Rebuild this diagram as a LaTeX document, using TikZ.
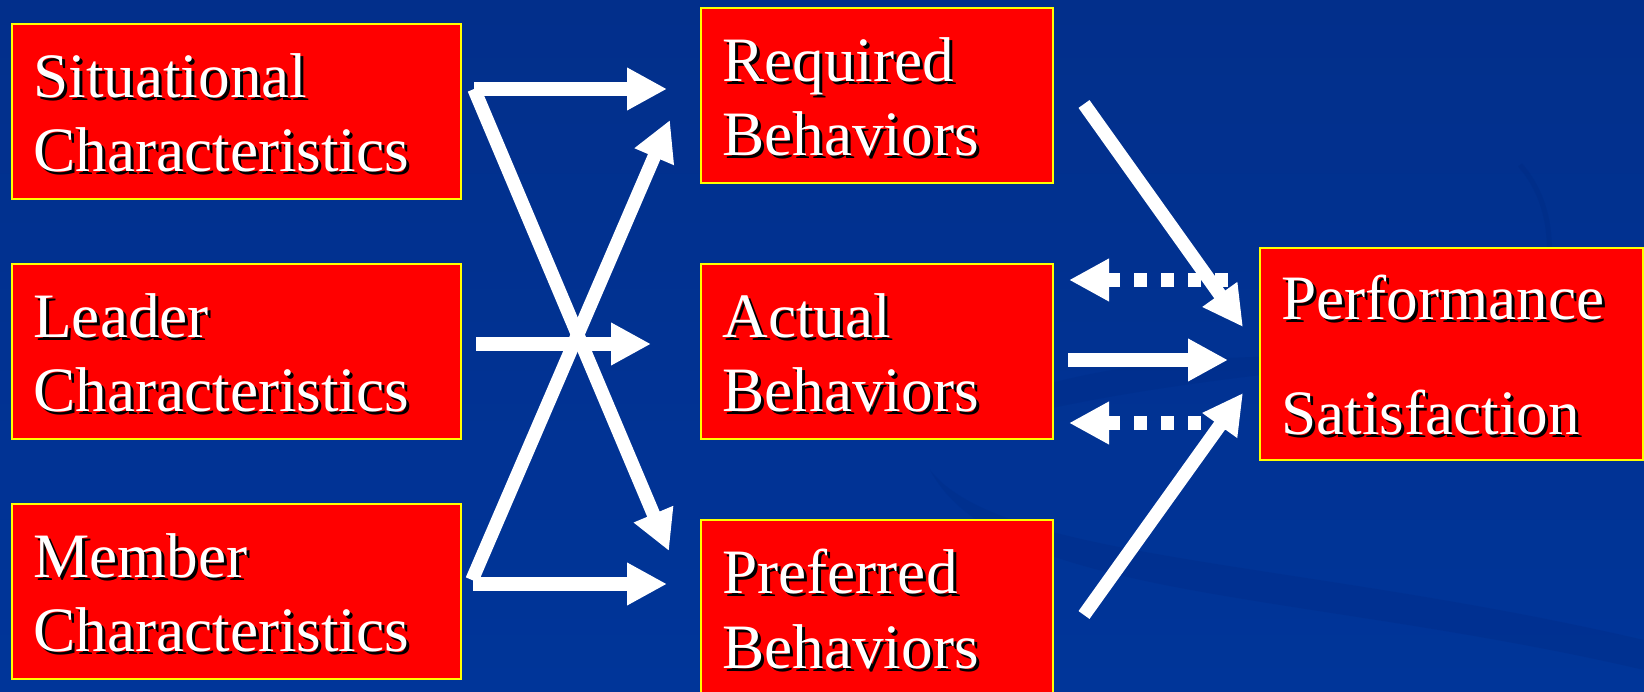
\documentclass[tikz,border=0pt]{standalone}
\usepackage{fontspec}
\setmainfont{Liberation Serif}
\usetikzlibrary{arrows.meta}

\definecolor{slideblue}{RGB}{0,53,153}
\definecolor{slidetop}{RGB}{2,47,139}
\definecolor{swirl}{RGB}{0,40,128}
\definecolor{boxred}{RGB}{255,0,0}
\definecolor{boxrim}{RGB}{255,255,0}

\begin{document}
\begin{tikzpicture}[x=0.02cm,y=-0.02cm]
\tikzstyle{box}=[draw=boxrim,fill=boxred,line width=0.04cm,anchor=north west,inner sep=0,outer sep=0,minimum height=3.5cm]
\tikzstyle{txt}=[anchor=west,align=left,inner sep=0,xshift=0.42cm,yshift=-0.03cm,font=\fontsize{36}{42.5}\selectfont]
\tikzstyle{arr}=[white,line width=0.27cm,-{Triangle[length=0.8cm,width=0.8cm]}]
\tikzstyle{dot}=[arr,dash pattern=on 0.27cm off 0.27cm]

% slide background
\useasboundingbox (0,0) rectangle (1644,692);
\clip (0,0) rectangle (1644,692);
\shade[top color=slidetop,bottom color=slideblue] (0,0) rectangle (1644,692);
\fill[swirl,opacity=0.25] (1000,400) .. controls (1100,360) and (1250,350) .. (1400,360)
  .. controls (1250,375) and (1120,390) .. (1000,420) -- cycle;
\fill[swirl,opacity=0.25] (930,470) .. controls (1000,560) and (1300,560) .. (1644,640)
  -- (1644,670) .. controls (1300,590) and (1000,600) .. (930,470);
\draw[swirl,opacity=0.3,line width=0.1cm] (1520,165) .. controls (1560,210) and (1555,280) .. (1530,330);

% the boxes
\node[box,minimum width=8.98cm] (sit) at (12,24) {};
\node[box,minimum width=8.98cm] (lead) at (12,264) {};
\node[box,minimum width=8.98cm] (memb) at (12,504) {};
\node[box,minimum width=7.04cm] (req) at (701,8) {};
\node[box,minimum width=7.04cm] (act) at (701,264) {};
\node[box,minimum width=7.04cm] (pref) at (701,520) {};
\node[box,minimum width=7.66cm,minimum height=4.24cm] (perf) at (1260,248) {};

% labels, black shadow first
\foreach \c/\s in {black/0.06cm,white/0cm} {
  \node[txt,text=\c,xshift=\s,yshift=-\s] (sit-\c) at (sit.west) {Situational\\Characteristics};
  \node[txt,text=\c,xshift=\s,yshift=-\s] (lead-\c) at (lead.west) {Leader\\Characteristics};
  \node[txt,text=\c,xshift=\s,yshift=-\s] (memb-\c) at (memb.west) {Member\\Characteristics};
  \node[txt,text=\c,xshift=\s,yshift=-\s] (req-\c) at (req.west) {Required\\Behaviors};
  \node[txt,text=\c,xshift=\s,yshift=-\s] (act-\c) at (act.west) {Actual\\Behaviors};
  \node[txt,text=\c,xshift=\s,yshift=-\s] (pref-\c) at (pref.west) {Preferred\\Behaviors};
  \node[txt,text=\c,xshift=\s,yshift=-\s] (perf-\c) at (perf.west) {Performance\\[23pt]Satisfaction};
}

% arrow ends
\coordinate (s1) at (474,89);
\coordinate (l1) at (476,344);
\coordinate (m1) at (473,584);
\coordinate (m2) at (472,580);
\coordinate (r1) at (667,89);
\coordinate (r2) at (670,120);
\coordinate (a1) at (651,344);
\coordinate (p1) at (669,551);
\coordinate (p2) at (667,584);
\coordinate (r3) at (1084,104);
\coordinate (a2) at (1068,360);
\coordinate (a3) at (1069,280);
\coordinate (a4) at (1069,423);
\coordinate (p3) at (1084,615);
\coordinate (q1) at (1243,327);
\coordinate (q2) at (1228,360);
\coordinate (q3) at (1243,393);
\coordinate (q4) at (1228,280);
\coordinate (q5) at (1228,423);

\foreach \from/\to in {s1/r1, s1/p1, l1/a1, m1/p2, m2/r2, a2/q2}
    \draw [arr] (\from) -- (\to);
\foreach \from/\to in {q4/a3, q5/a4}
    \draw [dot] (\from) -- (\to);
\foreach \from/\to in {r3/q1, p3/q3}
    \draw [arr] (\from) -- (\to);
\end{tikzpicture}
\end{document}
